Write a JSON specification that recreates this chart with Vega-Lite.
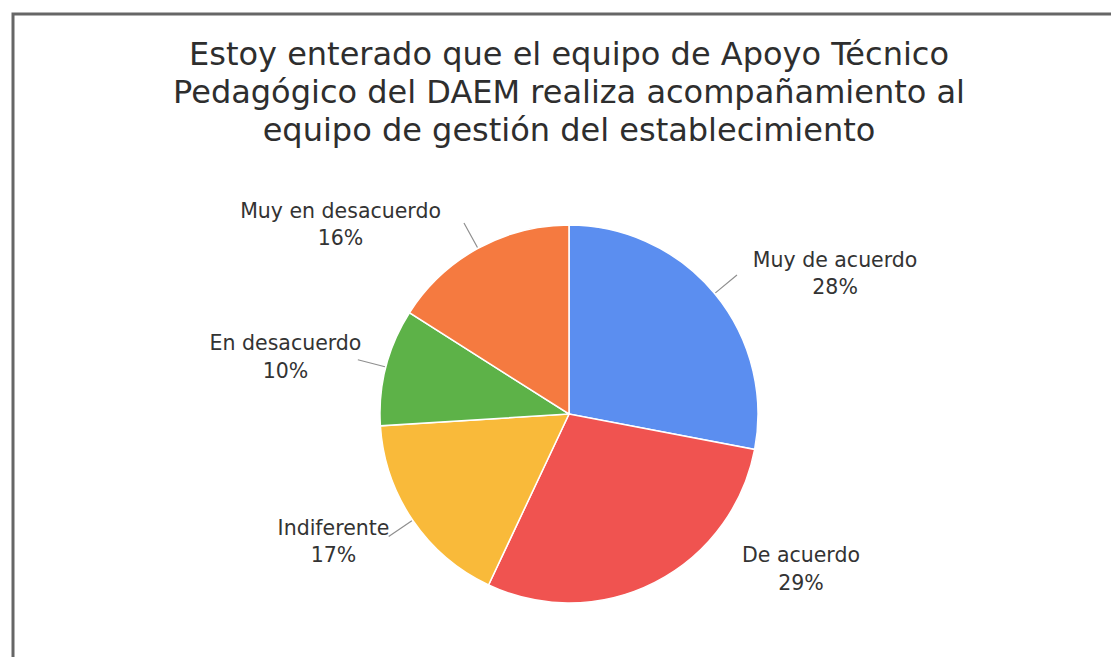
{
  "$schema": "https://vega.github.io/schema/vega-lite/v6.json",
  "width": 1112,
  "height": 800,
  "autosize": {"type": "none"},
  "padding": {"left": 13, "top": 14, "right": -14, "bottom": -157},
  "background": "white",
  "config": {
    "view": {"stroke": null},
    "text": {"font": "DejaVu Sans", "fontSize": 20.5, "color": "#333333", "lineBreak": "\n", "lineHeight": 27.5, "align": "center", "baseline": "middle"}
  },
  "title": {
    "text": [
      "Estoy enterado que el equipo de Apoyo Técnico",
      "Pedagógico del DAEM realiza acompañamiento al",
      "equipo de gestión del establecimiento"
    ],
    "font": "DejaVu Sans",
    "fontSize": 32,
    "fontWeight": "normal",
    "color": "#2e2e2e",
    "lineHeight": 38,
    "anchor": "middle",
    "frame": "group",
    "baseline": "top",
    "offset": 0,
    "dy": 135
  },
  "datasets": {
    "respuestas": [
      {"orden": 1, "respuesta": "Muy de acuerdo", "porcentaje": 28, "etiqueta": "Muy de acuerdo\n28%"},
      {"orden": 2, "respuesta": "De acuerdo", "porcentaje": 29, "etiqueta": "De acuerdo\n29%"},
      {"orden": 3, "respuesta": "Indiferente", "porcentaje": 17, "etiqueta": "Indiferente\n17%"},
      {"orden": 4, "respuesta": "En desacuerdo", "porcentaje": 10, "etiqueta": "En desacuerdo\n10%"},
      {"orden": 5, "respuesta": "Muy en desacuerdo", "porcentaje": 16, "etiqueta": "Muy en desacuerdo\n16%"}
    ],
    "marco": [{}]
  },
  "data": {"name": "respuestas"},
  "layer": [
    {
      "data": {"name": "marco"},
      "mark": {"type": "rect", "fill": "transparent", "stroke": "#666666", "strokeWidth": 3},
      "encoding": {}
    },
    {
      "encoding": {
        "theta": {"field": "porcentaje", "type": "quantitative", "stack": true},
        "order": {"field": "orden", "type": "quantitative"}
      },
      "layer": [
        {
          "mark": {"type": "arc", "radius": 189, "stroke": "white", "strokeWidth": 1.5},
          "encoding": {
            "color": {
              "field": "respuesta",
              "type": "nominal",
              "legend": null,
              "scale": {
                "domain": ["Muy de acuerdo", "De acuerdo", "Indiferente", "En desacuerdo", "Muy en desacuerdo"],
                "range": ["#5b8ef0", "#f05350", "#f9ba3a", "#5db248", "#f57a40"]
              }
            }
          }
        },
        {
          "mark": {"type": "arc", "radius": 218, "radius2": 190, "padAngle": 2, "filled": false, "stroke": "#8f8f8f", "strokeWidth": 1.2},
          "encoding": {
            "strokeOpacity": {"condition": {"test": "datum.respuesta === 'De acuerdo'", "value": 0}, "value": 1}
          }
        },
        {
          "mark": {"type": "text", "radius": 307, "thetaOffset": 0.169},
          "encoding": {"text": {"condition": {"test": "datum.respuesta === 'Muy de acuerdo'", "field": "etiqueta"}, "value": ""}}
        },
        {
          "mark": {"type": "text", "radius": 272, "thetaOffset": -0.55},
          "encoding": {"text": {"condition": {"test": "datum.respuesta === 'De acuerdo'", "field": "etiqueta"}, "value": ""}}
        },
        {
          "mark": {"type": "text", "radius": 262, "thetaOffset": 0.143},
          "encoding": {"text": {"condition": {"test": "datum.respuesta === 'Indiferente'", "field": "etiqueta"}, "value": ""}}
        },
        {
          "mark": {"type": "text", "radius": 292, "thetaOffset": -0.0096},
          "encoding": {"text": {"condition": {"test": "datum.respuesta === 'En desacuerdo'", "field": "etiqueta"}, "value": ""}}
        },
        {
          "mark": {"type": "text", "radius": 305, "thetaOffset": -0.344},
          "encoding": {"text": {"condition": {"test": "datum.respuesta === 'Muy en desacuerdo'", "field": "etiqueta"}, "value": ""}}
        }
      ]
    }
  ]
}
